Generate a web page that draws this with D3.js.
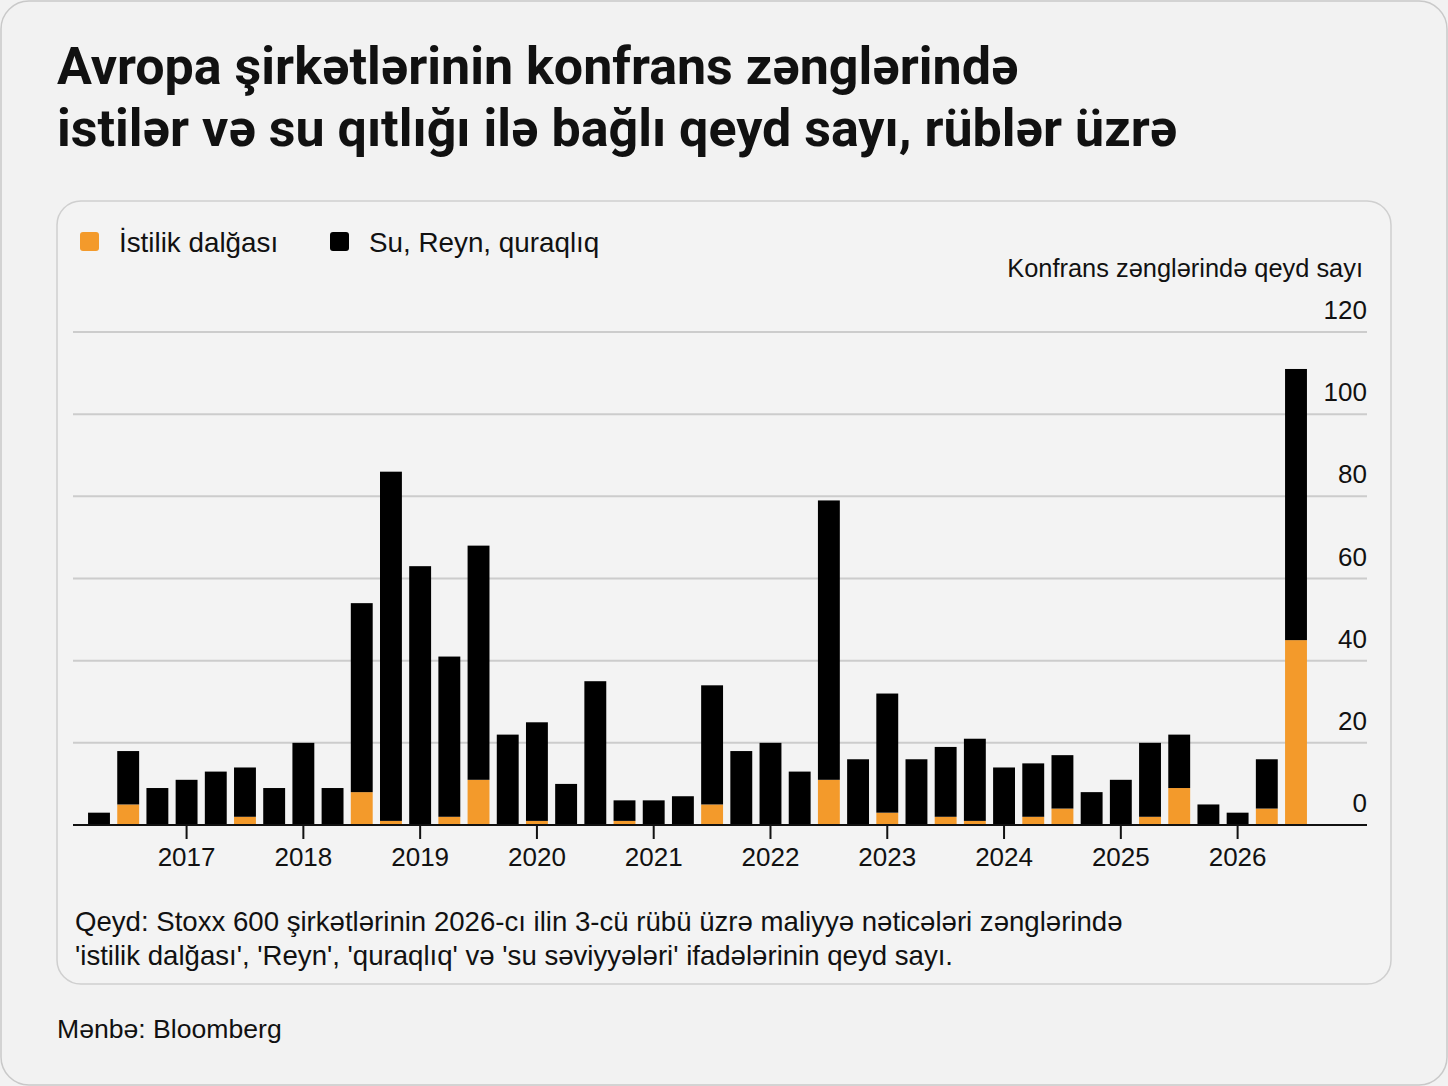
<!DOCTYPE html>
<html>
<head>
<meta charset="utf-8">
<script src="https://cdn.jsdelivr.net/npm/d3@7"></script>
<style>
  html, body { margin: 0; padding: 0; background: #f2f2f2; }
  svg { display: block; }
  text { font-family: "Liberation Sans", Arial, sans-serif; fill: #111; }
</style>
</head>
<body>
<div id="chart"></div>
<script>
// quarters 2016 Q2 .. 2026 Q3
const quarters = [
  "2016Q2","2016Q3","2016Q4",
  "2017Q1","2017Q2","2017Q3","2017Q4",
  "2018Q1","2018Q2","2018Q3","2018Q4",
  "2019Q1","2019Q2","2019Q3","2019Q4",
  "2020Q1","2020Q2","2020Q3","2020Q4",
  "2021Q1","2021Q2","2021Q3","2021Q4",
  "2022Q1","2022Q2","2022Q3","2022Q4",
  "2023Q1","2023Q2","2023Q3","2023Q4",
  "2024Q1","2024Q2","2024Q3","2024Q4",
  "2025Q1","2025Q2","2025Q3","2025Q4",
  "2026Q1","2026Q2","2026Q3"
]
const heatWave = [0,5,0, 0,0,2,0, 0,0,8,1, 0,2,11,0, 1,0,0,1, 0,0,5,0, 0,0,11,0, 3,0,2,1, 0,2,4,0, 0,2,9,0, 0,4,45]
const waterDrought = [3,13,9, 11,13,12,9, 20,9,46,85, 63,39,57,22, 24,10,35,5, 6,7,29,18, 20,13,68,16, 29,16,17,20, 14,13,13,8, 11,18,13,5, 3,12,66]
const yearTicks = ["2017Q1","2018Q1","2019Q1","2020Q1","2021Q1","2022Q1","2023Q1","2024Q1","2025Q1","2026Q1"]
const yTicks = [0,20,40,60,80,100,120]

const titleLines = ["Avropa şirkətlərinin konfrans zənglərində", "istilər və su qıtlığı ilə bağlı qeyd sayı, rüblər üzrə"]
const legendItems = [
  {key: "heat", label: "İstilik dalğası", color: "#f39a2b"},
  {key: "water", label: "Su, Reyn, quraqlıq", color: "#000000"}
]
const noteLines = [
  "Qeyd: Stoxx 600 şirkətlərinin 2026-cı ilin 3-cü rübü üzrə maliyyə nəticələri zənglərində",
  "'istilik dalğası', 'Reyn', 'quraqlıq' və 'su səviyyələri' ifadələrinin qeyd sayı."
]

const rows = quarters.map((q, i) => ({q: q, heat: heatWave[i], water: waterDrought[i]}))

const W = 1448, H = 1086
const svg = d3.select("#chart").append("svg")
  .attr("width", W)
  .attr("height", H)

// outer card
svg.append("rect")
  .attr("x", 1).attr("y", 1)
  .attr("width", W - 2).attr("height", H - 2)
  .attr("rx", 28)
  .attr("fill", "#f2f2f2")
  .attr("stroke", "#c9c9c9")
  .attr("stroke-width", 1.5)

svg.append("g").selectAll("text")
  .data(titleLines)
  .enter().append("text")
  .attr("x", 57)
  .attr("y", (d, i) => 84 + i * 62)
  .style("font-family", "Roboto, 'Liberation Sans', sans-serif")
  .style("font-weight", 700)
  .style("font-size", "52px")
  .text(d => d)

// inner card
svg.append("rect")
  .attr("x", 57).attr("y", 201)
  .attr("width", 1334).attr("height", 783)
  .attr("rx", 24)
  .attr("fill", "#f3f3f3")
  .attr("stroke", "#cfcfcf")
  .attr("stroke-width", 1.5)

// legend
const legend = svg.append("g").attr("transform", "translate(80,232)")
const li = legend.selectAll("g")
  .data(legendItems)
  .enter().append("g")
  .attr("transform", (d, i) => `translate(${i * 250},0)`)
li.append("rect")
  .attr("width", 19).attr("height", 19)
  .attr("rx", 3)
  .attr("fill", d => d.color)
li.append("text")
  .attr("x", 39)
  .attr("y", 20)
  .style("font-size", "27.8px")
  .text(d => d.label)

const x = d3.scaleBand()
  .domain(quarters)
  .range([84.4, 1310.6])
  .paddingInner(0.25)
  .paddingOuter(0.125)

const y = d3.scaleLinear()
  .domain([0, 120])
  .range([825, 332])

// gridlines + right labels
const grid = svg.append("g")
grid.selectAll("line")
  .data(yTicks.filter(d => d > 0))
  .enter().append("line")
  .attr("x1", 73).attr("x2", 1367)
  .attr("y1", d => y(d)).attr("y2", d => y(d))
  .attr("stroke", "#cccccc")
  .attr("stroke-width", 2)
grid.selectAll("text")
  .data(yTicks)
  .enter().append("text")
  .attr("x", 1367)
  .attr("y", d => y(d) - 13)
  .attr("text-anchor", "end")
  .style("font-size", "26px")
  .text(d => d)

svg.append("text")
  .attr("x", 1363)
  .attr("y", 277)
  .attr("text-anchor", "end")
  .style("font-size", "25.4px")
  .text("Konfrans zənglərində qeyd sayı")

// stacked bars
const series = d3.stack().keys(legendItems.map(d => d.key))(rows)
svg.append("g").selectAll("g")
  .data(series)
  .enter().append("g")
  .attr("fill", (d, i) => legendItems[i].color)
  .selectAll("rect")
  .data(d => d)
  .enter().append("rect")
  .attr("x", d => x(d.data.q))
  .attr("y", d => y(d[1]))
  .attr("width", x.bandwidth())
  .attr("height", d => y(d[0]) - y(d[1]))

// x axis
const xAxis = d3.axisBottom(x)
  .tickValues(yearTicks)
  .tickFormat(d => d.slice(0, 4))
  .tickSize(14)
  .tickPadding(9)
const ax = svg.append("g")
  .attr("transform", `translate(0,${y(0)})`)
  .call(xAxis)
ax.select(".domain").remove()
ax.selectAll(".tick line").attr("stroke", "#111").attr("stroke-width", 2)
ax.selectAll(".tick text")
  .style("font-family", "'Liberation Sans', Arial, sans-serif")
  .style("font-size", "26px")
  .attr("fill", "#111")
svg.append("line")
  .attr("x1", 73).attr("x2", 1367)
  .attr("y1", y(0)).attr("y2", y(0))
  .attr("stroke", "#111")
  .attr("stroke-width", 2)

// note + source
svg.append("g").selectAll("text")
  .data(noteLines)
  .enter().append("text")
  .attr("x", 75)
  .attr("y", (d, i) => 931 + i * 34)
  .style("font-size", "27.6px")
  .text(d => d)

svg.append("text")
  .attr("x", 57)
  .attr("y", 1038)
  .style("font-size", "26.6px")
  .text("Mənbə: Bloomberg")
</script>
</body>
</html>
